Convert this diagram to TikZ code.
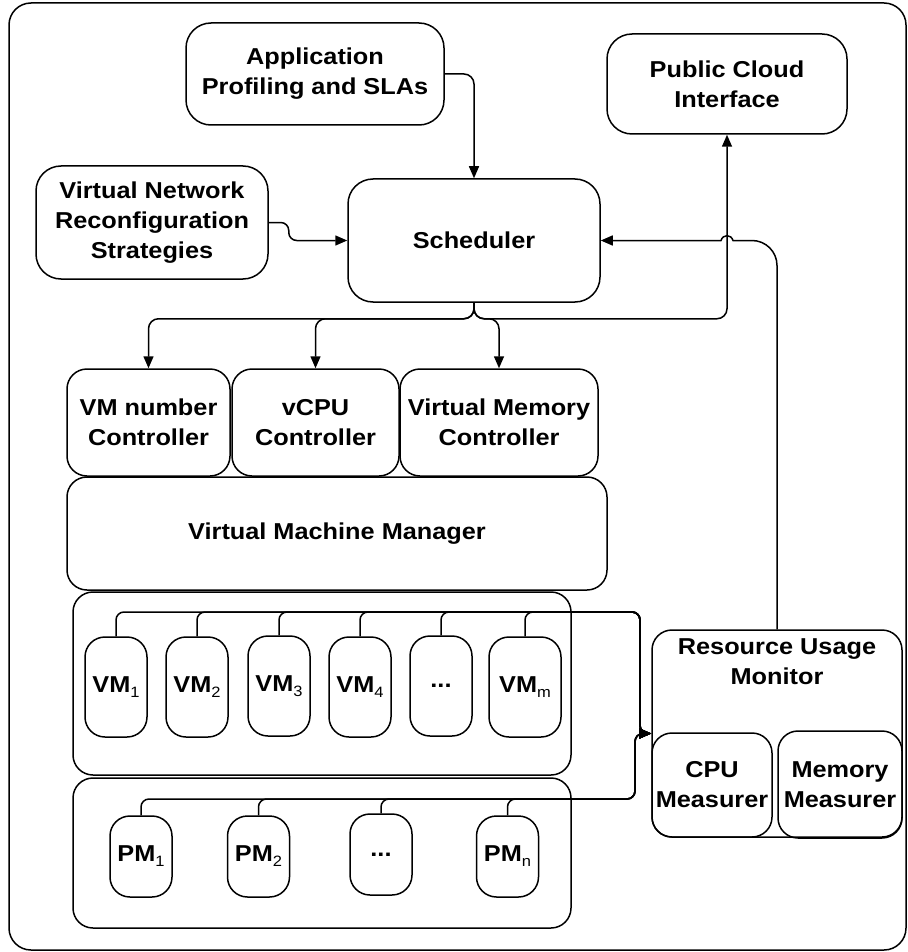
\documentclass[tikz,border=0pt]{standalone}
\usepackage{fontspec}
\setmainfont{Liberation Sans}[FakeStretch=1.1]
\usetikzlibrary{arrows.meta}
\newcommand\sbs[1]{\raisebox{-5pt}{\fontsize{15}{15}\selectfont\mdseries #1}}
\tikzset{
  base/.style={draw=black, line width=1.5pt, align=center, inner sep=0pt,
    font=\fontsize{23}{30}\selectfont\bfseries},
  bigbox/.style={base, rounded corners=25pt},
  midbox/.style={base, rounded corners=20pt},
  smallbox/.style={base, rounded corners=20pt},
  txt/.style={align=center, inner sep=0pt, font=\fontsize{23}{30}\selectfont\bfseries},
  sz/.style 2 args={minimum width=#1pt, minimum height=#2pt},
  conn/.style={line width=1.5pt, rounded corners=10pt, -{Triangle[length=12pt,width=10pt]}},
}
\begin{document}
\begin{tikzpicture}[x=1pt,y=-1pt]
\useasboundingbox (0,0) rectangle (907,952);
\node[base, rounded corners=22pt, sz={897}{947}] (frame) at (457.5,476.5) {};
% top
\node[bigbox, sz={258}{102}] (app) at (315,74) {Application\\Profiling and SLAs};
\node[bigbox, sz={240}{100}] (pci) at (727,84) {Public Cloud\\Interface};
\node[bigbox, sz={232}{113}] (vnrs) at (152,222.5) {Virtual Network\\Reconfiguration\\Strategies};
\node[bigbox, sz={252}{123}] (sched) at (474,240.5) {Scheduler};
% controllers
\node[midbox, sz={163}{107}] (vmnum) at (148.5,422.5) {VM number\\Controller};
\node[midbox, sz={167}{107}] (vcpu) at (315.5,422.5) {vCPU\\Controller};
\node[midbox, sz={198}{107}] (vmem) at (499,422.5) {Virtual Memory\\Controller};
\node[midbox, sz={540}{113}] (vmm) at (337,533.5) {Virtual Machine Manager};
% containers
\node[midbox, sz={498}{183}] (vmc) at (322,683.5) {};
\node[midbox, sz={498}{150}] (pmc) at (322,853) {};
% VMs
\node[smallbox, sz={62}{100}] (vm1) at (116,687) {VM\sbs{1}};
\node[smallbox, sz={62}{100}] (vm2) at (197,687) {VM\sbs{2}};
\node[smallbox, sz={62}{100}] (vm3) at (279,686) {VM\sbs{3}};
\node[smallbox, sz={62}{100}] (vm4) at (360,687) {VM\sbs{4}};
\node[smallbox, sz={62}{100}] (vmd) at (441,686) {...};
\node[smallbox, sz={72}{100}] (vmM) at (525,687) {VM\sbs{m}};
% PMs
\node[smallbox, sz={62}{81}] (pm1) at (141,856.5) {PM\sbs{1}};
\node[smallbox, sz={62}{81}] (pm2) at (258.5,856.5) {PM\sbs{2}};
\node[smallbox, sz={62}{81}] (pmd) at (381,854.5) {...};
\node[smallbox, sz={62}{81}] (pmN) at (507.5,856.5) {PM\sbs{n}};
% monitor
\node[midbox, sz={250}{207}] (rum) at (777,733.5) {};
\node[txt] (rumt) at (777,662) {Resource Usage\\Monitor};
\node[midbox, sz={120}{104}] (cpu) at (712,785) {CPU\\Measurer};
\node[midbox, sz={124}{107}] (mem) at (840,784.5) {Memory\\Measurer};
% connectors
\draw[conn] (app.east) -| (sched.north);
\draw[conn, rounded corners=8pt] (vnrs.east) -- ++(20,0) |- (sched.west);
\foreach \t in {vmnum,vcpu,vmem}
  \draw[conn] (sched.south) -- ++(0,16) -| (\t.north);
\draw[conn] (sched.south) -- ++(0,16) -| (pci.south);
\draw[conn, sharp corners] (rum.north) -- (777,265.5)
  .. controls (777,251.7) and (765.8,240.5) .. (752,240.5) -- (733,240.5)
  .. controls (731,234) and (723,234) .. (721,240.5) -- (sched.east);
\coordinate (vmbus) at (640,612);
\coordinate (pmbus) at (635,799);
\foreach \v in {vm1,vm2,vm3,vm4,vmd,vmM}
  \draw[conn, rounded corners=8pt] (\v.north) |- (vmbus) |- (rum.west);
\foreach \p in {pm1,pm2,pmd,pmN}
  \draw[conn, rounded corners=8pt] (\p.north) |- (pmbus) |- (rum.west);
\end{tikzpicture}
\end{document}
